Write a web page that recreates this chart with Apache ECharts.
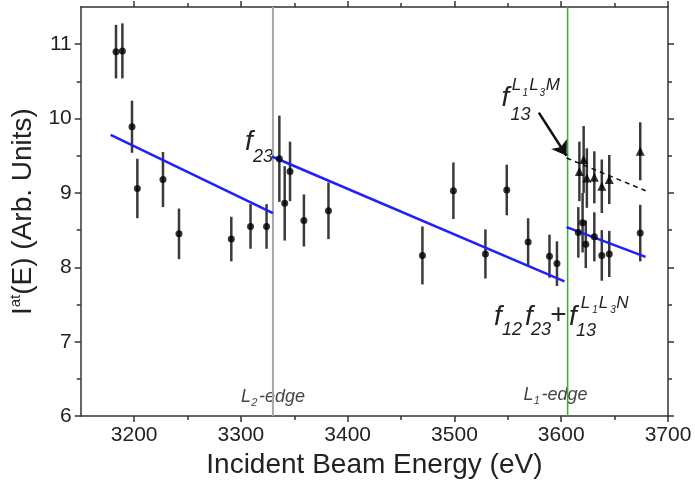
<!DOCTYPE html>
<html>
<head>
<meta charset="utf-8">
<script src="https://cdn.jsdelivr.net/npm/echarts@6/dist/echarts.min.js"></script>
<style>
  html, body { margin: 0; padding: 0; background: #fff; }
  #chart { width: 695px; height: 484px; }
</style>
</head>
<body>
<div id="chart"></div>
<script>
// measured points (circles)
var dotEnergy = [3183, 3189, 3198, 3203, 3227, 3242, 3291, 3309, 3324, 3336, 3341, 3346, 3359, 3382,
  3470, 3499, 3529, 3549, 3569, 3589, 3596, 3616, 3620, 3623, 3631, 3638, 3645, 3674];
var dotValue = [10.90, 10.91, 9.89, 9.06, 9.18, 8.45, 8.38, 8.55, 8.55, 9.46, 8.86, 9.29, 8.63, 8.76,
  8.16, 9.03, 8.18, 9.04, 8.34, 8.15, 8.05, 8.47, 8.60, 8.31, 8.41, 8.16, 8.18, 8.46];
var dotError = [0.36, 0.37, 0.35, 0.40, 0.37, 0.34, 0.30, 0.30, 0.30, 0.58, 0.50, 0.40, 0.35, 0.38,
  0.39, 0.38, 0.33, 0.34, 0.32, 0.29, 0.30, 0.34, 0.40, 0.32, 0.33, 0.34, 0.31, 0.38];

// points above the L1 edge (triangles)
var triEnergy = [3617, 3621, 3624, 3631, 3638, 3645, 3674];
var triValue = [9.29, 9.45, 9.20, 9.21, 9.09, 9.18, 9.56];
var triError = [0.40, 0.45, 0.40, 0.35, 0.36, 0.33, 0.39];

// fitted lines
var fitLow = [[3178, 9.78], [3330, 8.73]];
var fitMid = [[3329, 9.49], [3603, 7.81]];
var fitHigh = [[3605, 8.54], [3679, 8.14]];
var fitDashed = [[3605, 9.47], [3679, 9.03]];
var arrowFrom = [3579, 10.08];
var arrowTo = [3605, 9.50];

var edgeL2 = 3330;
var edgeL1 = 3606;

var xTicks = [3200, 3300, 3400, 3500, 3600, 3700];
var xMinor = [3200, 3250, 3300, 3350, 3400, 3450, 3500, 3550, 3600, 3650, 3700];
var yTicks = [6, 7, 8, 9, 10, 11];
var yMinor = [6, 6.5, 7, 7.5, 8, 8.5, 9, 9.5, 10, 10.5, 11];

var xMin = 3150, xMax = 3700, yMin = 6, yMax = 11.5;
var FONT = '"Liberation Sans", Arial, sans-serif';
var AXIS = '#333';

var chart = echarts.init(document.getElementById('chart'));

function xAx(pos, ticks, len, main) {
  return {
    type: 'value', position: pos, min: xMin, max: xMax,
    axisLine: {show: main, lineStyle: {color: AXIS, width: 1.5}},
    axisTick: {show: true, customValues: ticks, length: len, lineStyle: {color: AXIS, width: 1.5}},
    axisLabel: {show: false},
    splitLine: {show: false}
  };
}
function yAx(pos, ticks, len, main) {
  return {
    type: 'value', position: pos, min: yMin, max: yMax,
    axisLine: {show: main, lineStyle: {color: AXIS, width: 1.5}},
    axisTick: {show: true, customValues: ticks, length: len, lineStyle: {color: AXIS, width: 1.5}},
    axisLabel: {show: false},
    splitLine: {show: false}
  };
}

var xBottom = xAx('bottom', xTicks, 6, true);
xBottom.axisLabel = {
  show: true, customValues: xTicks, fontSize: 21, color: '#222', fontFamily: FONT, margin: 9,
  formatter: function (v) { return String(v); }
};
xBottom.name = 'Incident Beam Energy (eV)';
xBottom.nameLocation = 'middle';
xBottom.nameGap = 32;
xBottom.nameTextStyle = {fontSize: 28, color: '#222', fontFamily: FONT};

var yLeft = yAx('left', yTicks, 6, true);
yLeft.axisLabel = {
  show: true, customValues: yTicks, fontSize: 21, color: '#222', fontFamily: FONT, margin: 9,
  formatter: function (v) { return String(v); }
};
yLeft.name = '{a|I}{b|at}{a|(E) (Arb. Units)}';
yLeft.nameLocation = 'middle';
yLeft.nameGap = 40;
yLeft.nameTextStyle = {
  color: '#222', fontFamily: FONT,
  rich: {
    a: {fontSize: 28, fontFamily: FONT, color: '#222'},
    b: {fontSize: 15, fontFamily: FONT, color: '#222', padding: [0, 0, 16, 0]}
  }
};

function errorBars(energy, value, err) {
  return {
    type: 'custom',
    data: energy.map(function (e, i) { return [e, value[i], err[i]]; }),
    encode: {x: 0, y: 1},
    z: 2,
    renderItem: function (params, api) {
      var x = api.value(0), y = api.value(1), d = api.value(2);
      var p1 = api.coord([x, y + d]);
      var p2 = api.coord([x, y - d]);
      return {
        type: 'line',
        shape: {x1: p1[0], y1: p1[1], x2: p2[0], y2: p2[1]},
        style: {stroke: '#3a3a3a', lineWidth: 2.5}
      };
    }
  };
}

function straight(data, color, width, type) {
  return {
    type: 'line', data: data, symbol: 'none', z: 3,
    lineStyle: {color: color, width: width, type: type || 'solid'}
  };
}

chart.setOption({
  animation: false,
  grid: {left: 80, right: 27, top: 7, bottom: 67},
  xAxis: [xBottom, xAx('bottom', xMinor, 4, false), xAx('top', xTicks, 6, true), xAx('top', xMinor, 4, false)],
  yAxis: [yLeft, yAx('left', yMinor, 4, false), yAx('right', yTicks, 6, true), yAx('right', yMinor, 4, false)],
  series: [
    straight([[edgeL2, yMin], [edgeL2, yMax]], '#a8a8a8', 2),
    straight([[edgeL1, yMin], [edgeL1, yMax]], '#3fa83f', 1.5),
    errorBars(dotEnergy, dotValue, dotError),
    errorBars(triEnergy, triValue, triError),
    straight(fitLow, '#1f1fff', 2.5),
    straight(fitMid, '#1f1fff', 2.5),
    straight(fitHigh, '#1f1fff', 2.5),
    {
      type: 'line', data: fitDashed, symbol: 'none', z: 3,
      lineStyle: {color: '#111', width: 1.5, type: [5, 4]},
      markLine: {
        silent: true, symbol: ['none', 'arrow'], symbolSize: 14,
        label: {show: false},
        lineStyle: {color: '#111', width: 2.5, type: 'solid'},
        data: [[{coord: arrowFrom}, {coord: arrowTo}]]
      }
    },
    {
      type: 'scatter', z: 4, symbol: 'circle', symbolSize: 7,
      itemStyle: {color: '#000'},
      data: dotEnergy.map(function (e, i) { return [e, dotValue[i]]; })
    },
    {
      type: 'scatter', z: 4, symbol: 'triangle', symbolSize: 9,
      itemStyle: {color: '#000'},
      data: triEnergy.map(function (e, i) { return [e, triValue[i]]; })
    }
  ]
});

// annotation texts, anchored in data space
var SIZES = {big: 28, sub: 18, sup: 17, tiny: 10, edge: 18, etiny: 11, plus: 28};
var annotations = [
  {at: [3307.5, 9.68], color: '#222', parts: [['f', 0, 0, 'big'], ['23', 14, 15, 'sub']]},
  {at: [3547.7, 10.28], color: '#222', parts: [
    ['f', 0, 0, 'big'], ['L', 11, -12, 'sup'], ['1', 20, -5, 'tiny'], ['L', 28.5, -12, 'sup'],
    ['3', 37, -5, 'tiny'], ['M', 47.5, -12, 'sup'], ['13', 15, 17, 'sub']]},
  {at: [3540.7, 7.335], color: '#222', parts: [
    ['f', 0, 0, 'big'], ['12', 14.2, 13.5, 'sub'], ['f', 31, 0, 'big'], ['23', 43, 13.5, 'sub'],
    ['+', 60.5, -2, 'plus'], ['f', 75, 0, 'big'], ['L', 87.5, -14, 'sup'], ['1', 97, -7, 'tiny'],
    ['L', 105.5, -14, 'sup'], ['3', 115, -7, 'tiny'], ['N', 124.5, -14, 'sup'], ['13', 88, 14, 'sub']]},
  {at: [3304.7, 6.26], color: '#444', parts: [['L', 0, 0, 'edge'], ['2', 8.5, 6.5, 'etiny'], ['-edge', 13, 0, 'edge', 'left']]},
  {at: [3569.4, 6.29], color: '#444', parts: [['L', 0, 0, 'edge'], ['1', 8.3, 6.5, 'etiny'], ['-edge', 13, 0, 'edge', 'left']]}
];

var graphics = annotations.map(function (a) {
  var p = chart.convertToPixel({xAxisIndex: 0, yAxisIndex: 0}, a.at);
  return {
    type: 'group', x: p[0], y: p[1],
    children: a.parts.map(function (t) {
      return {
        type: 'text', x: t[1], y: t[2],
        style: {
          text: t[0], fontSize: SIZES[t[3]], fontStyle: t[3] === 'plus' ? 'normal' : 'italic',
          fontFamily: FONT, fill: a.color, align: t[4] || 'center', verticalAlign: 'middle'
        }
      };
    })
  };
});
chart.setOption({graphic: graphics});
</script>
</body>
</html>
